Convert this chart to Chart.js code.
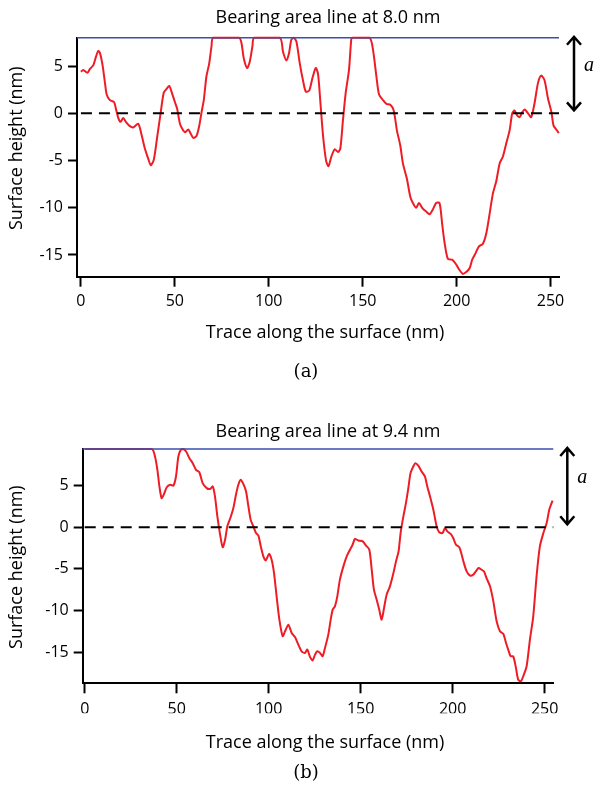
<!DOCTYPE html>
<html><head><meta charset="utf-8">
<script src="https://cdn.jsdelivr.net/npm/chart.js@4.4.1/dist/chart.umd.min.js"></script>
<style>
html,body{margin:0;padding:0;background:#fff;}
body{width:595px;height:787px;position:relative;overflow:hidden;}
.box{position:absolute;left:0;width:595px;}
</style></head><body>
<div class="box" style="top:0;height:395px"><canvas id="c1"></canvas></div>
<div class="box" style="top:395px;height:392px"><canvas id="c2"></canvas></div>
<script>
// ---- data (a) ----
const traceA = [0,1.2,3.4,4.8,6.6,8,9.2,10.1,11.5,12.8,13.7,15.4,17.6,18.6,19.9,21.1,22.5,23.9,25.7,27.8,30.5,32.3,34,35.8,37.2,38.8,40.6,42.4,44.1,45.6,47,48.2,50,51.2,52.7,54.4,55.5,57.1,58.3,59.8,61.5,62.9,64.2,65.4,66.8,68.3,69.5,70.4,84.2,85.5,86.7,88.5,89.9,91.3,92.2,105.9,107.6,109.4,110.8,112,113.3,114.7,116.5,118.3,119.7,121.5,123.2,125,126.2,127.5,128.9,130.5,131.8,133.3,135.1,136.9,138.1,139.5,140.9,142.7,143.9,144.5,153.7,155.5,157.3,158.7,160.8,162.6,164.7,166.5,168.2,170,171.4,173.5,175.3,176.7,178.5,179.9,182,183.8,185.6,187.3,189.1,190.9,192.3,193.5,195.3,197.6,199.4,201.2,203.3,205.1,206.9,208.3,210.1,211.9,214,215.8,217.6,219.3,221.1,222.9,224.6,226.4,228.2,229.6,230.8,232.1,233.5,234.9,236.2,238,239.7,241.5,243.3,245,246.8,248.6,250.4,251.6,253,254.4];
const heightA = [4.4,4.6,4.3,4.7,5.1,6.0,6.6,6.4,5.1,3.2,2.0,1.4,1.2,0.5,-0.5,-0.9,-0.5,-0.9,-1.3,-1.5,-1.1,-2.3,-3.7,-4.8,-5.5,-4.9,-2.5,0,2.2,2.6,2.9,2.3,1.2,0.5,-1.1,-1.8,-2.0,-1.7,-2.1,-2.6,-2.4,-1.4,0.1,1.4,3.9,5.3,7.1,8,8,7.4,5.8,4.8,5.5,7.1,8,8,6.5,5.6,6.4,7.8,8,7.6,5.3,3.4,2.3,2.4,3.7,4.8,4.2,1.1,-2.4,-5.0,-5.6,-4.6,-3.8,-4.1,-3.7,-0.7,2.1,4.6,7.8,8,8,6.7,3.9,2.0,1.4,1.0,0.9,0.3,-1.8,-3.4,-5.3,-6.9,-8.8,-9.5,-10,-9.5,-10.1,-10.4,-10.7,-10.2,-9.5,-9.5,-11.7,-13.6,-15.4,-15.5,-15.9,-16.5,-17,-16.8,-16.4,-15.5,-14.8,-14.1,-13.8,-12.7,-10.6,-8.5,-7.2,-5.3,-4.6,-3.2,-1.8,0,0.3,-0.2,-0.4,0.1,0.4,0,-0.4,1.1,3.2,4.0,3.5,1.6,0.2,-1.3,-1.7,-2.1];
// ---- data (b) ----
const traceB = [0,36.4,38.2,39.5,40.6,41.8,43.1,44.6,46.4,48.2,49.6,50.9,52.2,53.6,55.1,56.9,58.7,60.5,62.3,64.1,66.3,68.1,69.6,70.8,72.1,73.6,75,76.3,77.5,79.3,80.8,82.2,83.5,84.8,86.2,87.7,88.9,90.2,91.7,93.1,94.4,95.7,97.1,98.4,100.2,101.6,102.9,104.3,105.8,107.6,108.9,110.7,112.5,114.3,116.1,117.9,119.7,121,122.5,123.9,125.2,126.4,127.9,129.3,130.6,132.4,133.7,134.8,136,137.3,138.7,140.6,142.4,144.2,145.6,146.9,148.7,151.1,152.9,154.7,156,157.2,158.7,160.1,161.4,162.7,164.1,165.9,167.8,169.2,170.6,171.7,173.2,174.6,175.9,177.1,178.6,179.7,181.3,183.1,184.9,186.2,187.7,189.5,191.3,192.7,194.5,195.8,197.1,198.9,200.3,201.8,203.6,204.9,206.1,207.6,209.4,211.2,212.6,214.1,215.7,217,218.4,220.3,222.1,223.9,225.7,227.5,229,230.2,231.5,232.9,234.4,235.6,237.1,238.7,240.2,242,243.8,245.6,247.4,249.3,251.1,252.5,254.3];
const heightB = [9.4,9.4,8.5,6.9,4.9,3.5,4.0,4.8,5.1,5.0,6.1,8.5,9.3,9.4,9.1,8.3,7.7,6.9,6.6,5.3,4.7,4.6,4.9,3.7,1.3,-0.9,-2.4,-1.5,0.1,1.2,2.3,3.9,5.1,5.7,5.2,4.3,2.6,0.9,0.1,-0.7,-1.0,-2.3,-3.5,-4.0,-3.2,-3.9,-5.5,-8.3,-11.1,-13.1,-12.5,-11.7,-12.7,-13.2,-14.1,-14.9,-15.1,-14.7,-15.6,-16,-15.3,-14.9,-15.1,-15.5,-14.5,-12.9,-11.1,-9.9,-9.5,-8.3,-6.3,-4.7,-3.5,-2.7,-2.1,-1.4,-1.6,-1.7,-2.2,-2.7,-5.1,-7.5,-8.7,-9.9,-11.1,-9.7,-8.1,-7.1,-5.5,-4.1,-2.9,-0.7,1.3,2.9,4.7,6.5,7.3,7.7,7.4,6.7,6.1,4.9,3.7,2.1,0.1,-0.6,-0.7,-0.1,-0.5,-0.8,-1.3,-2.1,-2.4,-3.3,-4.3,-5.3,-5.8,-5.7,-5.3,-4.9,-5.1,-5.3,-6.1,-7.1,-8.9,-11.3,-12.5,-12.8,-13.9,-14.7,-15.5,-15.5,-16.9,-18.3,-18.5,-17.7,-16.7,-13.5,-10.7,-5.9,-2.3,-0.7,0.5,2.1,3.2];
// ---- axes / labels ----
const xTickValues = [0,50,100,150,200,250];
const yTickValues = [-15,-10,-5,0,5];
const xRangeA = [-2.1, 254.5];
const yRangeA = [-17.3, 8.0];
const xRangeB = [-1.1, 254.7];
const yRangeB = [-18.75, 9.4];
const bearingA = 8.0;
const bearingB = 9.4;
const titleA = 'Bearing area line at 8.0 nm';
const titleB = 'Bearing area line at 9.4 nm';
const xTitle = 'Trace along the surface (nm)';
const yTitle = 'Surface height (nm)';
const captionA = '(a)';
const captionB = '(b)';

const FONT = '"Open Sans", "Noto Sans", sans-serif';

const annot = {
  id: 'annot',
  afterDraw(chart, args, o) {
    const {ctx, chartArea: a, scales: {y}} = chart;
    const cx = (a.left + a.right) / 2;
    ctx.save();
    ctx.fillStyle = '#000';
    ctx.textAlign = 'center';
    ctx.textBaseline = 'middle';
    ctx.font = '18px ' + FONT;
    ctx.fillText(o.title, cx + 10, a.top + o.titleDy);
    ctx.fillText(o.xTitle, cx + 7, a.bottom + o.xTitleDy);
    ctx.save();
    ctx.translate(17, (a.top + a.bottom) / 2 + o.yTitleDy);
    ctx.rotate(-Math.PI / 2);
    ctx.fillText(o.yTitle, 0, 0);
    ctx.restore();
    ctx.font = '18px "DejaVu Serif", serif';
    ctx.fillText(o.caption, cx - 12, a.bottom + o.captionDy);
    // double arrow
    const ax = a.right + o.arrowDx;
    const y1 = y.getPixelForValue(o.bearing) - 1;
    const y2 = y.getPixelForValue(0) - 3;
    ctx.strokeStyle = '#000';
    ctx.lineWidth = 2.5;
    ctx.lineJoin = 'miter';
    ctx.beginPath();
    ctx.moveTo(ax, y1 + 1); ctx.lineTo(ax, y2 - 1);
    ctx.moveTo(ax - 7, y1 + 8); ctx.lineTo(ax, y1); ctx.lineTo(ax + 7, y1 + 8);
    ctx.moveTo(ax - 7, y2 - 8); ctx.lineTo(ax, y2); ctx.lineTo(ax + 7, y2 - 8);
    ctx.stroke();
    ctx.font = 'italic 20px "Liberation Serif", serif';
    ctx.fillText('a', ax + 15, (y1 + y2) / 2 - 8);
    ctx.restore();
  }
};

function makeChart(id, trace, height, xr, yr, bearing, opts) {
  const profile = trace.map((v, i) => ({x: v, y: height[i]}));
  const bearingLine = [{x: xr[0], y: bearing}, {x: xr[1], y: bearing}];
  const zeroLine = [{x: 0, y: 0}, {x: xr[1], y: 0}];
  return new Chart(document.getElementById(id), {
    type: 'line',
    data: {
      datasets: [
        {data: profile, borderColor: '#ee1c25', borderWidth: 2, pointRadius: 0, tension: 0.25, clip: 4, order: 3},
        {data: zeroLine, borderColor: '#000', borderWidth: 2, borderDash: [11, 7], pointRadius: 0, clip: 4, order: 2},
        {data: bearingLine, borderColor: '#3a4fae', borderWidth: 1.6, pointRadius: 0, clip: 4, order: 1}
      ]
    },
    options: {
      responsive: true, maintainAspectRatio: false, animation: false, devicePixelRatio: 1,
      layout: {padding: opts.padding},
      plugins: {legend: {display: false}, tooltip: {enabled: false}, annot: opts.annot},
      scales: {
        x: {
          type: 'linear', min: xr[0], max: xr[1],
          afterBuildTicks: s => { s.ticks = xTickValues.map(v => ({value: v})); },
          afterFit: s => { s.height = 30; },
          grid: {drawOnChartArea: false, drawTicks: true, tickLength: 10, tickWidth: 2, tickColor: '#000'},
          border: {display: true, color: '#000', width: 2},
          ticks: {color: '#000', font: {family: FONT, size: 16}, padding: opts.xTickPad, maxRotation: 0, autoSkip: false}
        },
        y: {
          type: 'linear', min: yr[0], max: yr[1],
          afterBuildTicks: s => { s.ticks = yTickValues.map(v => ({value: v})); },
          afterFit: s => { s.width = opts.yWidth; },
          grid: {drawOnChartArea: false, drawTicks: true, tickLength: 9, tickWidth: 2, tickColor: '#000'},
          border: {display: true, color: '#000', width: 2},
          ticks: {color: '#000', font: {family: FONT, size: 16}, padding: 5}
        }
      }
    },
    plugins: [annot]
  });
}

makeChart('c1', traceA, heightA, xRangeA, yRangeA, bearingA, {
  padding: {left: 0, right: 36, top: 37.8, bottom: 88.3},
  yWidth: 77, xTickPad: 5,
  annot: {title: titleA, xTitle: xTitle, yTitle: yTitle, caption: captionA, bearing: bearingA,
          titleDy: -19.8, xTitleDy: 56.3, captionDy: 95.3, yTitleDy: -9, arrowDx: 15}
});
makeChart('c2', traceB, heightB, xRangeB, yRangeB, bearingB, {
  padding: {left: 0, right: 41.7, top: 54, bottom: 73.7},
  yWidth: 82.7, xTickPad: 7,
  annot: {title: titleB, xTitle: xTitle, yTitle: yTitle, caption: captionB, bearing: bearingB,
          titleDy: -17, xTitleDy: 59.7, captionDy: 89.7, yTitleDy: 1, arrowDx: 14}
});
</script>
</body></html>
